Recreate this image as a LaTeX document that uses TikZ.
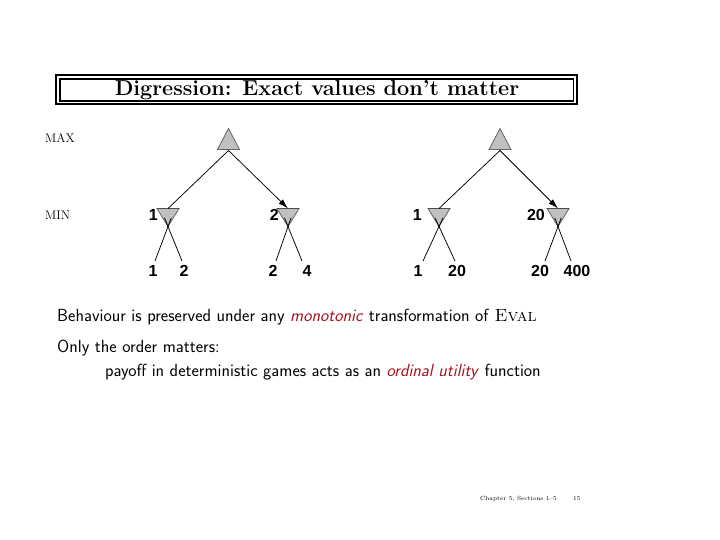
\documentclass[tikz,border=0pt]{standalone}
\usepackage{fontspec}
\newfontfamily\labfont{Liberation Sans}
\usetikzlibrary{arrows.meta,calc}
\definecolor{darkred}{RGB}{165,20,30}
\definecolor{trifill}{RGB}{192,192,192}
\definecolor{triline}{RGB}{100,100,100}
\newcommand\MaxTri[2]{%
  \coordinate (#1) at (#2);
  \filldraw[tri] ($(#1)+(0,-10.5)$) -- ($(#1)+(11,10.5)$) -- ($(#1)+(-11,10.5)$) -- cycle;
  \coordinate (#1-bot) at ($(#1)+(0,11.5)$);}
\newcommand\MinTri[2]{%
  \coordinate (#1) at (#2);
  \filldraw[tri] ($(#1)+(-11,-9)$) -- ($(#1)+(11,-9)$) -- ($(#1)+(0,9)$) -- cycle;
  \draw[topedge] ($(#1)+(-11,-9)$) -- ($(#1)+(11,-9)$);
  \coordinate (#1-top) at ($(#1)+(0,-9)$);
  \coordinate (#1-apex) at ($(#1)+(0,9)$);}
\begin{document}
\begin{tikzpicture}[x=1pt,y=-1pt,
  tri/.style={fill=trifill,draw=triline,line width=0.8pt,line join=miter},
  topedge/.style={draw=black!70,line width=1.4pt},
  edge/.style={line width=0.75pt},
  arr/.style={edge,-{Latex[length=10pt,width=6pt]}},
  val/.style={font=\labfont\bfseries\fontsize{16}{16}\selectfont,inner sep=0pt},
  lvl/.style={font=\fontsize{12.5}{13}\selectfont,anchor=base west,inner sep=0pt},
  body/.style={font=\sffamily\fontsize{17.6}{20}\selectfont,anchor=base west,inner sep=0pt}]
\useasboundingbox (0,0) rectangle (720,540);
\fill[white] (0,0) rectangle (720,540);

% title frame
\draw[line width=1.6pt] (56,75) rectangle (577,104);
\draw[line width=1.2pt] (60,79) rectangle (573.5,101);
\node[font=\bfseries\fontsize{21.6}{24}\selectfont,anchor=base,inner sep=0pt] (title) at (317,96) {Digression: Exact values don't matter};

% level labels
\node[lvl] (lmax) at (45,143) {MAX};
\node[lvl] (lmin) at (45,220) {MIN};

% tree 1
\MaxTri{R1}{228.5,139}
\MinTri{M1a}{168,217.5}
\MinTri{M1b}{288,217.5}
\draw[edge] (R1-bot) -- (M1a-top);
\draw[arr] (R1-bot) -- (M1b-top);
\node[val,anchor=east] (v1a) at (158,215) {1};
\node[val,anchor=east] (v1b) at (279,215) {2};
\node[val] (L1) at (153,271) {1};
\node[val] (L2) at (184,271) {2};
\node[val] (L3) at (273,271) {2};
\node[val] (L4) at (307,271) {4};
\coordinate (q1) at (155,261);
\coordinate (q2) at (182,261);
\coordinate (q3) at (276,261);
\coordinate (q4) at (302,261);
\draw[edge] (q1) -- ($(q1)!1.25!(M1a-apex)$);
\draw[edge] (q2) -- ($(q2)!1.25!(M1a-apex)$);
\draw[edge] (q3) -- ($(q3)!1.25!(M1b-apex)$);
\draw[edge] (q4) -- ($(q4)!1.25!(M1b-apex)$);

% tree 2
\MaxTri{R2}{500,139}
\MinTri{M2a}{439,217.5}
\MinTri{M2b}{558,217.5}
\draw[edge] (R2-bot) -- (M2a-top);
\draw[arr] (R2-bot) -- (M2b-top);
\node[val,anchor=east] (v2a) at (422,215) {1};
\node[val,anchor=east] (v2b) at (545,215) {20};
\node[val] (L5) at (418,271) {1};
\node[val] (L6) at (457,271) {20};
\node[val] (L7) at (540,271) {20};
\node[val] (L8) at (577,271) {400};
\coordinate (q5) at (423,261);
\coordinate (q6) at (455,261);
\coordinate (q7) at (545,261);
\coordinate (q8) at (571,261);
\draw[edge] (q5) -- ($(q5)!1.25!(M2a-apex)$);
\draw[edge] (q6) -- ($(q6)!1.25!(M2a-apex)$);
\draw[edge] (q7) -- ($(q7)!1.25!(M2b-apex)$);
\draw[edge] (q8) -- ($(q8)!1.25!(M2b-apex)$);

% body text
\node[body] (t1) at (57,321) {Behaviour is preserved under any \textcolor{darkred}{\textit{monotonic}} transformation of \textrm{\textsc{Eval}}};
\node[body] (t2) at (57,352) {Only the order matters:};
\node[body] (t3) at (105,376) {payoff in deterministic games acts as an \textcolor{darkred}{\textit{ordinal utility}} function};

% footer
\node[font=\fontsize{6}{6}\selectfont,anchor=base west,inner sep=0pt] (foot) at (480,500) {Chapter 5, Sections 1--5};
\node[font=\fontsize{6}{6}\selectfont,anchor=base west,inner sep=0pt] (page) at (573,500) {15};
\end{tikzpicture}
\end{document}
